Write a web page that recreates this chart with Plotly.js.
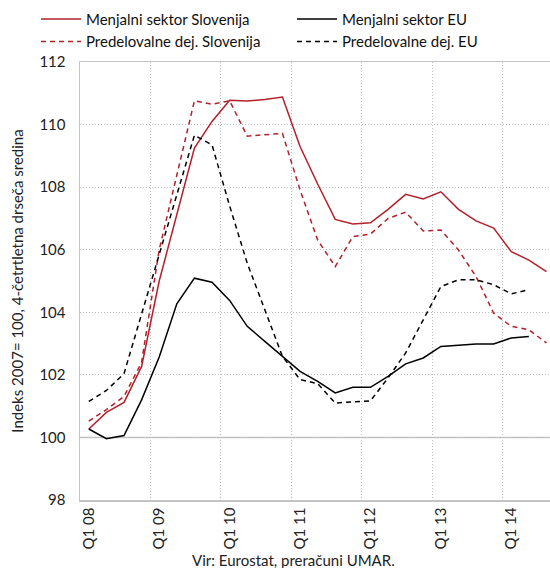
<!DOCTYPE html>
<html>
<head>
<meta charset="utf-8">
<script src="https://cdn.plot.ly/plotly-3.0.1.min.js"></script>
<style>html,body{margin:0;padding:0;background:#fff;}#chart{width:550px;height:568px;}</style>
</head>
<body>
<div id="chart"></div>
<script>
const quarters = ["Q1 08","Q2 08","Q3 08","Q4 08","Q1 09","Q2 09","Q3 09","Q4 09",
  "Q1 10","Q2 10","Q3 10","Q4 10","Q1 11","Q2 11","Q3 11","Q4 11",
  "Q1 12","Q2 12","Q3 12","Q4 12","Q1 13","Q2 13","Q3 13","Q4 13",
  "Q1 14","Q2 14","Q3 14"];
const menjalniSlo = [100.27,100.8,101.12,102.27,105.0,107.1,109.25,110.1,110.78,110.75,110.8,110.88,
  109.3,108.1,106.97,106.82,106.86,107.29,107.77,107.62,107.85,107.29,106.92,106.69,105.94,105.67,105.30];
const menjalniEU = [100.27,99.96,100.06,101.2,102.57,104.27,105.09,104.96,104.38,103.55,103.07,102.6,
  102.11,101.79,101.42,101.6,101.6,101.95,102.35,102.54,102.91,102.95,102.99,102.99,103.18,103.23];
const predelovalneSlo = [100.52,100.89,101.31,102.4,106.0,108.4,110.76,110.65,110.76,109.63,109.68,109.72,
  107.91,106.31,105.46,106.42,106.5,107.0,107.2,106.6,106.63,105.99,105.14,103.97,103.55,103.44,103.02];
const predelovalneEU = [101.15,101.5,102.04,103.95,105.85,107.75,109.66,109.35,107.4,105.57,104.08,102.59,
  101.85,101.72,101.1,101.13,101.17,101.9,102.7,103.76,104.82,105.04,105.04,104.88,104.59,104.72];
const seriesNames = ["Menjalni sektor Slovenija","Menjalni sektor EU","Predelovalne dej. Slovenija","Predelovalne dej. EU"];
const yTicks = [98,100,102,104,106,108,110,112];

const RED = "#b3202a";
const FONT = "Lato, 'Open Sans', sans-serif";

const traces = [
  {x: quarters.slice(0, menjalniSlo.length), y: menjalniSlo, name: seriesNames[0], mode: "lines",
   line: {color: RED, width: 1.5}, legend: "legend"},
  {x: quarters.slice(0, menjalniEU.length), y: menjalniEU, name: seriesNames[1], mode: "lines",
   line: {color: "#000", width: 1.5}, legend: "legend2"},
  {x: quarters.slice(0, predelovalneSlo.length), y: predelovalneSlo, name: seriesNames[2], mode: "lines",
   line: {color: RED, width: 1.5, dash: "5px,4px"}, legend: "legend"},
  {x: quarters.slice(0, predelovalneEU.length), y: predelovalneEU, name: seriesNames[3], mode: "lines",
   line: {color: "#000", width: 1.5, dash: "5px,4px"}, legend: "legend2"}
];

const legendBase = {orientation: "h", xanchor: "left", yanchor: "top", xref: "container", yref: "container",
  y: 0.995, entrywidth: 240, traceorder: "normal", font: {family: FONT, size: 15, color: "#111"},
  bgcolor: "rgba(0,0,0,0)", itemwidth: 40, tracegroupgap: 0};

const layout = {
  width: 550, height: 568,
  margin: {l: 80, r: 0, t: 62, b: 68},
  paper_bgcolor: "#fff", plot_bgcolor: "#fff",
  font: {family: FONT, size: 15, color: "#222"},
  showlegend: true,
  legend: Object.assign({}, legendBase, {x: 36 / 550}),
  legend2: Object.assign({}, legendBase, {x: 292 / 550}),
  xaxis: {type: "category", categoryorder: "array", categoryarray: quarters,
    range: [-0.5, 26.2], tickmode: "linear", tick0: 0, dtick: 4, tickson: "boundaries",
    tickangle: -90, ticks: "", showgrid: true, gridcolor: "#bdbdbd", griddash: "1px,2px", gridwidth: 1,
    showline: true, mirror: true, linecolor: "#c4c4c4", linewidth: 1.5, zeroline: false,
    tickfont: {family: FONT, size: 15, color: "#222"}, fixedrange: true},
  yaxis: {range: [98, 112], tickvals: yTicks, ticks: "", showgrid: true, gridcolor: "#bdbdbd",
    griddash: "1px,2px", gridwidth: 1, showline: true, linecolor: "#c4c4c4", linewidth: 1.5, zeroline: false,
    ticklabelstandoff: 10,
    title: {text: "Indeks 2007= 100, 4-četrtletna drseča sredina", font: {family: FONT, size: 15, color: "#222"}, standoff: 12},
    tickfont: {family: FONT, size: 15, color: "#222"}, fixedrange: true},
  shapes: [{type: "line", xref: "paper", yref: "y", x0: 0, x1: 1, y0: 100, y1: 100,
    line: {color: "#c4c4c4", width: 1.5}, layer: "below"}],
  annotations: [{text: "Vir: Eurostat, preračuni UMAR.", xref: "paper", yref: "paper",
    x: 0.455, y: 0, yshift: -49, xanchor: "center", yanchor: "top", showarrow: false,
    font: {family: FONT, size: 15, color: "#222"}}]
};

Plotly.newPlot("chart", traces, layout, {displayModeBar: false, staticPlot: true});
</script>
</body>
</html>
